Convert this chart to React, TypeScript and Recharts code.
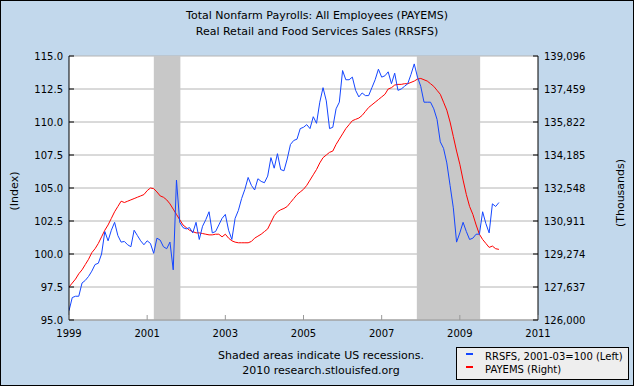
import { CartesianGrid, Line, LineChart, ReferenceArea, XAxis, YAxis } from 'recharts';

// monthly, starting 1999-01
const startYear = 1999;

// Real Retail and Food Services Sales, index 2001-03=100 (left axis)
const rrsfs = [
  95.7, 96.7, 96.8, 96.8, 97.8, 98.0, 98.3, 98.7, 99.2, 99.3,
  100.0, 101.7, 101.0, 101.8, 102.4, 101.4, 100.9, 100.95, 100.7, 100.55,
  101.8, 101.4, 101.0, 100.7, 101.0, 100.8, 100.05, 101.2, 101.05, 100.55,
  100.4, 100.9, 98.8, 105.6, 102.4, 102.0, 101.9, 102.0, 101.6, 102.4,
  101.1, 102.1, 102.6, 103.2, 101.6, 101.7, 102.2, 102.7, 103.0, 101.8,
  101.1, 102.7, 103.3, 104.2, 104.9, 105.8, 105.2, 104.85, 105.7, 105.5,
  105.4, 105.9, 107.3, 106.5, 107.6, 106.4, 106.3, 107.2, 108.3, 108.6,
  108.7, 109.5, 109.6, 109.8, 109.5, 110.4, 109.9, 111.5, 112.6, 111.6,
  109.5, 109.6, 111.0, 111.5, 113.9, 113.2, 113.2, 113.4, 112.4, 111.9,
  112.2, 112.0, 112.0, 112.6, 113.2, 114.0, 113.4, 113.5, 113.8, 112.9,
  113.7, 112.4, 112.5, 112.7, 112.9, 113.6, 114.4, 113.4, 112.7, 111.5,
  111.5, 111.5, 111.0, 110.2, 108.5, 108.0, 106.9, 105.2, 103.5, 100.9,
  101.6, 102.4, 101.7, 101.1, 101.2, 101.5, 101.5, 103.2, 102.3, 101.6,
  103.8, 103.6, 103.9,
];

// Total Nonfarm Payrolls, thousands (right axis)
const payems = [
  127637, 127833, 128030, 128292, 128488, 128750, 129012, 129339, 129536, 129798,
  130125, 130453, 130715, 131040, 131369, 131631, 131893, 131828, 131893, 131959,
  132024, 132090, 132155, 132221, 132417, 132548, 132515, 132352, 132155, 132090,
  131959, 131762, 131500, 131238, 130976, 130715, 130584, 130453, 130387, 130322,
  130322, 130289, 130256, 130223, 130223, 130256, 130256, 130125, 130256, 130060,
  129929, 129863, 129831, 129831, 129831, 129831, 129896, 130060, 130158, 130256,
  130387, 130518, 130846, 131173, 131369, 131468, 131533, 131631, 131828, 132024,
  132221, 132352, 132483, 132679, 132941, 133203, 133465, 133792, 134054, 134185,
  134316, 134381, 134709, 134971, 135233, 135495, 135691, 135887, 135953, 136018,
  136149, 136346, 136542, 136673, 136804, 136935, 137066, 137197, 137459, 137524,
  137655, 137688, 137688, 137721, 137721, 137786, 137852, 137950, 137983, 137917,
  137852, 137721, 137590, 137393, 137197, 136804, 136411, 135822, 135102, 134381,
  133726, 132941, 132221, 131631, 131238, 130715, 130256, 129994, 129798, 129601,
  129667, 129536, 129503,
];

const recessions = [
  [2001.17, 2001.85],
  [2007.9, 2009.52],
];

const yearTicks = [1999, 2001, 2003, 2005, 2007, 2009, 2011];
const leftTicks = [95, 97.5, 100, 102.5, 105, 107.5, 110, 112.5, 115];
const rightTicks = [126000, 127637, 129274, 130911, 132548, 134185, 135822, 137459, 139096];

const data = rrsfs.map((v, i) => ({ t: startYear + i / 12, rrsfs: v, payems: payems[i] }));

const font = '"DejaVu Sans", Verdana, sans-serif';
const W = 634;
const H = 386;
const plotLeft = 69;
const plotRight = 538;
const plotBottom = 320;

const LeftTick = (props: any) => {
  const { y, payload } = props;
  return (
    <g>
      <line x1={plotLeft} x2={plotLeft + 5} y1={y} y2={y} stroke="#000" />
      <text x={plotLeft - 6} y={y + 4} textAnchor="end" fontSize={10} fontFamily={font} fill="#000">
        {Number(payload.value).toFixed(1)}
      </text>
    </g>
  );
};

const RightTick = (props: any) => {
  const { y, payload } = props;
  return (
    <g>
      <line x1={plotRight - 5} x2={plotRight} y1={y} y2={y} stroke="#000" />
      <text x={plotRight + 6} y={y + 4} textAnchor="start" fontSize={10} fontFamily={font} fill="#000">
        {Number(payload.value).toLocaleString('en-US')}
      </text>
    </g>
  );
};

const YearTick = (props: any) => {
  const { x, payload } = props;
  return (
    <g>
      <line x1={x} x2={x} y1={plotBottom} y2={plotBottom - 5} stroke="#999" />
      <text x={x} y={plotBottom + 17} textAnchor="middle" fontSize={10} fontFamily={font} fill="#000">
        {payload.value}
      </text>
    </g>
  );
};

export default function App() {
  return (
    <div
      style={{
        position: 'absolute',
        left: 0,
        top: 0,
        width: W,
        height: H,
        boxSizing: 'border-box',
        border: '1px solid #000',
        background: '#C2D8EC',
        fontFamily: font,
        overflow: 'hidden',
      }}
    >
      <div style={{ position: 'absolute', left: -1, top: 7, width: W, textAlign: 'center', fontSize: 11, lineHeight: '16px' }}>
        Total Nonfarm Payrolls: All Employees (PAYEMS)
        <br />
        Real Retail and Food Services Sales (RRSFS)
      </div>
      <div style={{ position: 'absolute', left: -1, top: -1 }}>
        <LineChart width={W} height={H} data={data} margin={{ top: 56, right: 0, bottom: 0, left: 0 }}>
          <CartesianGrid yAxisId="left" vertical={false} stroke="#B4B4B4" fill="#FFFFFF" />
          <XAxis
            dataKey="t"
            type="number"
            domain={[1999, 2011]}
            ticks={yearTicks}
            height={66}
            axisLine={{ stroke: '#999' }}
            tickLine={false}
            tick={YearTick}
            allowDataOverflow
          />
          <YAxis
            yAxisId="left"
            orientation="left"
            width={69}
            domain={[95, 115]}
            ticks={leftTicks}
            axisLine={{ stroke: '#000' }}
            tickLine={false}
            tick={LeftTick}
            allowDataOverflow
          />
          <YAxis
            yAxisId="right"
            orientation="right"
            width={96}
            domain={[126000, 139096]}
            ticks={rightTicks}
            axisLine={{ stroke: '#000' }}
            tickLine={false}
            tick={RightTick}
            allowDataOverflow
          />
          {recessions.map(([a, b]) => (
            <ReferenceArea key={a} yAxisId="left" x1={a} x2={b} y1={95} y2={115} fill="#C8C8C8" fillOpacity={1} stroke="none" />
          ))}
          <Line
            yAxisId="right"
            type="linear"
            dataKey="payems"
            stroke="#FF0000"
            strokeWidth={1}
            dot={false}
            isAnimationActive={false}
          />
          <Line
            yAxisId="left"
            type="linear"
            dataKey="rrsfs"
            stroke="#1446FF"
            strokeWidth={1}
            dot={false}
            isAnimationActive={false}
          />
        </LineChart>
      </div>
      <div
        style={{
          position: 'absolute',
          left: 13,
          top: 190,
          transform: 'translate(-50%, -50%) rotate(-90deg)',
          fontSize: 11,
          whiteSpace: 'nowrap',
        }}
      >
        (Index)
      </div>
      <div
        style={{
          position: 'absolute',
          left: 619,
          top: 192,
          transform: 'translate(-50%, -50%) rotate(-90deg)',
          fontSize: 11,
          whiteSpace: 'nowrap',
        }}
      >
        (Thousands)
      </div>
      <div style={{ position: 'absolute', left: 170, top: 347, width: 300, textAlign: 'center', fontSize: 11, lineHeight: '15px' }}>
        Shaded areas indicate US recessions.
        <br />
        2010 research.stlouisfed.org
      </div>
      <div
        style={{
          position: 'absolute',
          left: 455,
          top: 346,
          width: 173,
          height: 33,
          boxSizing: 'border-box',
          border: '1px solid #000',
          background: '#EEEEEE',
          fontSize: 10,
        }}
      >
        <div style={{ position: 'absolute', left: 9, top: 5, width: 7, height: 2, background: '#1446FF' }} />
        <div style={{ position: 'absolute', left: 28, top: 2, lineHeight: '13px' }}>RRSFS, 2001-03=100 (Left)</div>
        <div style={{ position: 'absolute', left: 9, top: 18, width: 7, height: 2, background: '#FF0000' }} />
        <div style={{ position: 'absolute', left: 28, top: 15, lineHeight: '13px' }}>PAYEMS (Right)</div>
      </div>
    </div>
  );
}
